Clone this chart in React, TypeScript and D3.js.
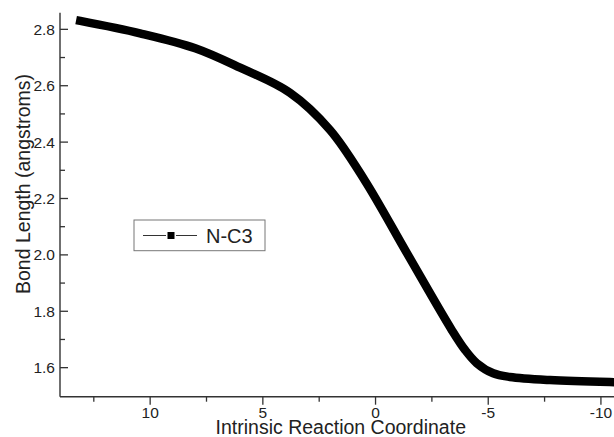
import React from "react";
import * as d3 from "d3";

const irc = [13.1, 10.45, 8.0, 6.01, 3.8, 2.02, 0.47, -1.38, -3.38, -3.97, -4.49, -5.22, -5.96, -7.74, -10.4];
const bondLength = [2.83, 2.786, 2.733, 2.664, 2.575, 2.443, 2.263, 2.008, 1.734, 1.663, 1.616, 1.58, 1.567, 1.556, 1.549];
const xMajorTicks = [10, 5, 0, -5, -10];
const xMinorTicks = [12.5, 7.5, 2.5, -2.5, -7.5];
const yMajorTicks = [1.6, 1.8, 2.0, 2.2, 2.4, 2.6, 2.8];
const yMinorTicks = [1.7, 1.9, 2.1, 2.3, 2.5, 2.7];
const seriesName = "N-C3";

const W = 614;
const H = 437;
const left = 60;
const right = 614;
const top = 12.7;
const bottom = 396.7;

export default function App() {
  const x = d3.scaleLinear().domain([14, -10.58]).range([left, right]);
  const y = d3.scaleLinear().domain([1.497, 2.859]).range([bottom, top]);
  const pts: [number, number][] = irc.map((v, i) => [x(v), y(bondLength[i])]);
  const line = d3.line().curve(d3.curveCatmullRom.alpha(0.5))(pts) || "";
  const axisColor = "#333";
  const font = "Liberation Sans, Arial, sans-serif";
  return (
    <div style={{ position: "absolute", left: 0, top: 0 }}>
      <svg width={W} height={H} style={{ display: "block", background: "#fff" }}>
        <path d={line} fill="none" stroke="#000" strokeWidth={8.5} strokeLinecap="square" strokeLinejoin="round" />
        <line x1={left} x2={left} y1={top} y2={bottom} stroke={axisColor} strokeWidth={1.4} />
        <line x1={left} x2={right} y1={bottom} y2={bottom} stroke={axisColor} strokeWidth={1.4} />
        {yMajorTicks.map((t) => (
          <g key={"ym" + t}>
            <line x1={left} x2={left + 8} y1={y(t)} y2={y(t)} stroke={axisColor} strokeWidth={1.3} />
            <text x={left - 5} y={y(t)} dy="0.36em" textAnchor="end" fontSize={15.5} fontFamily={font} fill="#222">
              {t.toFixed(1)}
            </text>
          </g>
        ))}
        {yMinorTicks.map((t) => (
          <line key={"yn" + t} x1={left} x2={left + 5} y1={y(t)} y2={y(t)} stroke={axisColor} strokeWidth={1.3} />
        ))}
        {xMajorTicks.map((t) => (
          <g key={"xm" + t}>
            <line x1={x(t)} x2={x(t)} y1={bottom} y2={bottom + 8} stroke={axisColor} strokeWidth={1.3} />
            <text x={x(t)} y={417.5} textAnchor="middle" fontSize={15.5} fontFamily={font} fill="#222">
              {t === 0 ? "0" : t < 0 ? "-" + Math.abs(t) : String(t)}
            </text>
          </g>
        ))}
        {xMinorTicks.map((t) => (
          <line key={"xn" + t} x1={x(t)} x2={x(t)} y1={bottom} y2={bottom + 5} stroke={axisColor} strokeWidth={1.3} />
        ))}
        <text x={340.8} y={433.5} textAnchor="middle" fontSize={19.5} fontFamily={font} fill="#222">
          Intrinsic Reaction Coordinate
        </text>
        <text
          transform={`translate(30,184) rotate(-90)`}
          textAnchor="middle"
          fontSize={19.5}
          fontFamily={font}
          fill="#222"
        >
          Bond Length (angstroms)
        </text>
        <rect x={134} y={220} width={131} height={30.7} fill="#fff" stroke="#777" strokeWidth={1} />
        <line x1={143} x2={166} y1={235.5} y2={235.5} stroke="#333" strokeWidth={1} />
        <line x1={176} x2={197} y1={235.5} y2={235.5} stroke="#333" strokeWidth={1} />
        <rect x={167.5} y={232} width={7} height={7} fill="#000" />
        <text x={206} y={242.5} fontSize={20} fontFamily={font} fill="#222">
          {seriesName}
        </text>
      </svg>
    </div>
  );
}
